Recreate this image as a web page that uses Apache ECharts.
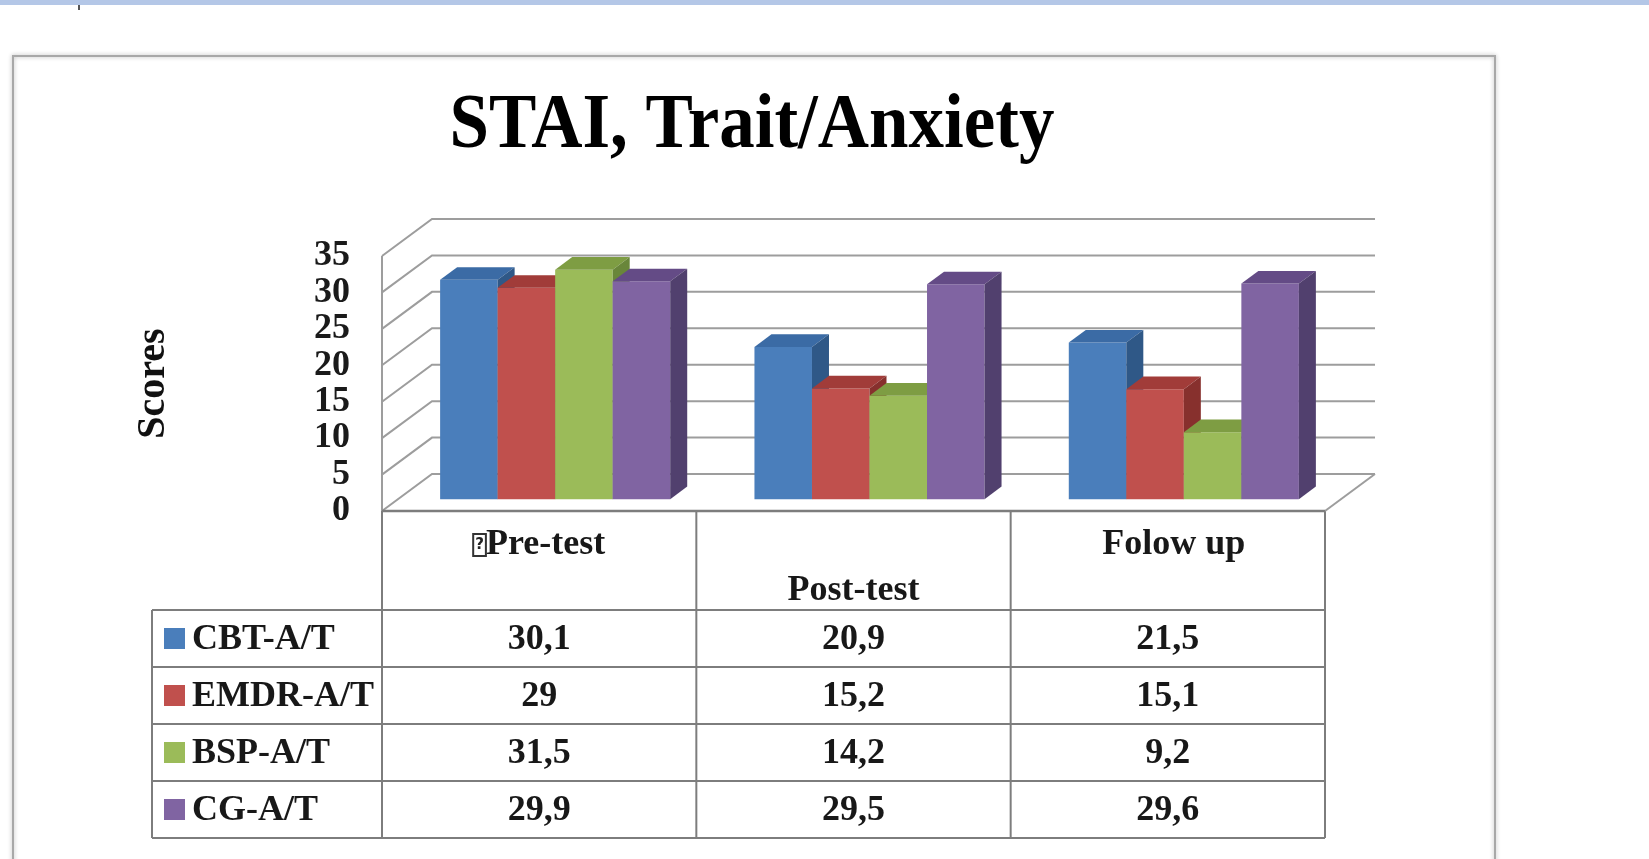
<!DOCTYPE html>
<html><head><meta charset="utf-8">
<script src="https://cdn.jsdelivr.net/npm/echarts@6/dist/echarts.min.js"></script>
<style>html,body{margin:0;padding:0;background:#fff;}#c{width:1649px;height:859px;}</style>
</head><body><div id="c"></div>
<script>
// ---- data ----
const chartTitle = 'STAI, Trait/Anxiety';
const yAxisName = 'Scores';
const categories = ['Pre-test', 'Post-test', 'Folow up'];
const seriesNames = ['CBT-A/T', 'EMDR-A/T', 'BSP-A/T', 'CG-A/T'];
const cbtAT = [30.1, 20.9, 21.5];
const emdrAT = [29, 15.2, 15.1];
const bspAT = [31.5, 14.2, 9.2];
const cgAT = [29.9, 29.5, 29.6];
const yTicks = [0, 5, 10, 15, 20, 25, 30, 35];

// ---- styles ----
const seriesValues = [cbtAT, emdrAT, bspAT, cgAT];
const frontColors = ['#4A7EBB', '#C0504D', '#9BBB59', '#8064A2'];
const topColors = ['#3B6BA5', '#A13C39', '#7E9D43', '#644B86'];
const sideColors = ['#2F5887', '#87302D', '#69863A', '#51406E'];
const DX = 50, DY = -37;          // depth vector of the 3D box
const BAR_F0 = 0.32, BAR_F1 = 0.66; // depth range of bars
const BAR_W = 0.183;              // bar width as fraction of band
const gridColor = '#9d9d9d';
const tableColor = '#7d7d7d';
const serif = '"Liberation Serif", "DejaVu Serif", serif';

const chart = echarts.init(document.getElementById('c'), null, {renderer: 'canvas'});

function wallRender(params, api) {
  const cs = params.coordSys;
  const v = api.value(1);
  const y = api.coord([0, v])[1];
  const L = cs.x, R = cs.x + cs.width;
  const ls = {stroke: gridColor, lineWidth: 2, fill: null};
  const children = [{type: 'polyline', shape: {points: [[L, y], [L + DX, y + DY], [R + DX, y + DY]]}, style: ls}];
  if (v === 0) {
    const yTop = api.coord([0, yTicks[yTicks.length - 1]])[1];
    children.push({type: 'line', shape: {x1: R, y1: y, x2: R + DX, y2: y + DY}, style: ls});
    children.push({type: 'line', shape: {x1: L, y1: yTop, x2: L, y2: y}, style: ls});
    children.push({type: 'line', shape: {x1: L, y1: y, x2: R, y2: y}, style: {stroke: tableColor, lineWidth: 2.5}});
  }
  return {type: 'group', children};
}

function barRender(k) {
  return function (params, api) {
    const cat = api.value(0), v = api.value(1);
    const base = api.coord([cat, 0]);
    const top = api.coord([cat, v]);
    const band = api.size([1, 0])[0];
    const bw = band * BAR_W;
    const x0 = base[0] - 2 * bw + k * bw + DX * BAR_F0;
    const x1 = x0 + bw;
    const yb = base[1] + DY * BAR_F0;
    const yt = top[1] + DY * BAR_F0;
    const ddx = DX * (BAR_F1 - BAR_F0), ddy = DY * (BAR_F1 - BAR_F0);
    return {type: 'group', children: [
      {type: 'polygon', shape: {points: [[x0, yb], [x1, yb], [x1, yt], [x0, yt]]}, style: {fill: frontColors[k]}},
      {type: 'polygon', shape: {points: [[x0, yt], [x1, yt], [x1 + ddx, yt + ddy], [x0 + ddx, yt + ddy]]}, style: {fill: topColors[k]}},
      {type: 'polygon', shape: {points: [[x1, yt], [x1 + ddx, yt + ddy], [x1 + ddx, yb + ddy], [x1, yb]]}, style: {fill: sideColors[k]}}
    ]};
  };
}

const series = [{
  type: 'custom', name: 'walls', z: 1, silent: true,
  renderItem: wallRender, encode: {x: 0, y: 1},
  data: yTicks.map(v => [0, v])
}];
seriesValues.forEach((vals, k) => {
  series.push({
    type: 'custom', name: seriesNames[k], z: 2,
    renderItem: barRender(k), encode: {x: 0, y: 1},
    data: vals.map((v, i) => [i, v])
  });
});

const option = {
  animation: false,
  backgroundColor: '#fff',
  grid: {left: 382, right: 324, top: 256, bottom: 348, containLabel: false},
  xAxis: {
    type: 'category', data: categories,
    axisLine: {show: false}, axisTick: {show: false}, axisLabel: {show: false}, splitLine: {show: false}
  },
  yAxis: {
    type: 'value', min: 0, max: 35, interval: 5,
    axisLine: {show: false}, axisTick: {show: false}, splitLine: {show: false},
    axisLabel: {margin: 32, fontFamily: serif, fontSize: 36, fontWeight: 'bold', color: '#1a1a1a'},
    name: yAxisName, nameLocation: 'middle', nameRotate: 90, nameGap: 208,
    nameTextStyle: {fontFamily: serif, fontSize: 40, fontWeight: 'bold', color: '#111'}
  },
  series
};
chart.setOption(option);

// ---- title, frame, data table (positioned from the grid) ----
const p0 = chart.convertToPixel({gridIndex: 0}, [0, 0]);
const p1 = chart.convertToPixel({gridIndex: 0}, [1, 0]);
const band = p1[0] - p0[0];
const yFloor = p0[1];
const edges = categories.map((c, i) => chart.convertToPixel({gridIndex: 0}, [i, 0])[0] - band / 2);
edges.push(edges[edges.length - 1] + band);
const headerH = 99, rowH = 57;
const tableLeft = 152;
const rowTop = yFloor + headerH;
const tableRight = edges[edges.length - 1];
const tline = {stroke: tableColor, lineWidth: 2};
const tableFont = {fontFamily: serif, fontSize: 36, fontWeight: 'bold', fill: '#181818'};

const g = [];
g.push({type: 'rect', shape: {x: 0, y: 0, width: 1649, height: 5}, style: {fill: '#B4C7E7'}, z: 0});
g.push({type: 'line', shape: {x1: 79, y1: 5, x2: 79, y2: 10}, style: {stroke: '#555', lineWidth: 2}});
g.push({type: 'rect', shape: {x: 13, y: 56, width: 1482, height: 900}, style: {fill: null, stroke: '#a8a8a8', lineWidth: 2, shadowBlur: 4, shadowColor: 'rgba(0,0,0,0.3)'}, z: 0});
g.push({type: 'text', x: 752, y: 127, scaleY: 1.1, style: {text: chartTitle, fontFamily: serif, fontWeight: 'bold', fontSize: 71, fill: '#000', align: 'center', verticalAlign: 'middle'}});

// header column lines
edges.forEach(x => g.push({type: 'line', shape: {x1: x, y1: yFloor, x2: x, y2: rowTop + rowH * seriesNames.length}, style: tline}));
// row lines
for (let r = 0; r <= seriesNames.length; r++) {
  const y = rowTop + r * rowH;
  g.push({type: 'line', shape: {x1: tableLeft, y1: y, x2: tableRight, y2: y}, style: tline});
}
g.push({type: 'line', shape: {x1: tableLeft, y1: rowTop, x2: tableLeft, y2: rowTop + rowH * seriesNames.length}, style: tline});

// header labels
const headerOffsets = [34, 80, 34];
categories.forEach((c, i) => {
  const cx = (edges[i] + edges[i + 1]) / 2;
  const txt = i === 0 ? '{q|?}' + c : c;
  g.push({type: 'text', x: cx + (i === 2 ? 6 : 0), y: yFloor + headerOffsets[i], style: Object.assign({
    text: txt, align: 'center', verticalAlign: 'middle',
    rich: {q: {fontFamily: '"DejaVu Sans", sans-serif', fontSize: 15, fontWeight: 'bold', fill: '#222', borderColor: '#333', borderWidth: 2, padding: [4, 2, 3, 2], verticalAlign: 'middle'}}
  }, tableFont)});
});

// rows
seriesNames.forEach((name, k) => {
  const cy = rowTop + k * rowH + rowH / 2;
  g.push({type: 'rect', shape: {x: 164, y: cy - 10.5, width: 21, height: 21}, style: {fill: frontColors[k]}});
  g.push({type: 'text', x: 192, y: cy + 1, style: Object.assign({text: name, align: 'left', verticalAlign: 'middle'}, tableFont)});
  seriesValues[k].forEach((v, i) => {
    const cx = (edges[i] + edges[i + 1]) / 2;
    g.push({type: 'text', x: cx, y: cy + 1, style: Object.assign({text: String(v).replace('.', ','), align: 'center', verticalAlign: 'middle'}, tableFont)});
  });
});

chart.setOption({graphic: g});
</script></body></html>
